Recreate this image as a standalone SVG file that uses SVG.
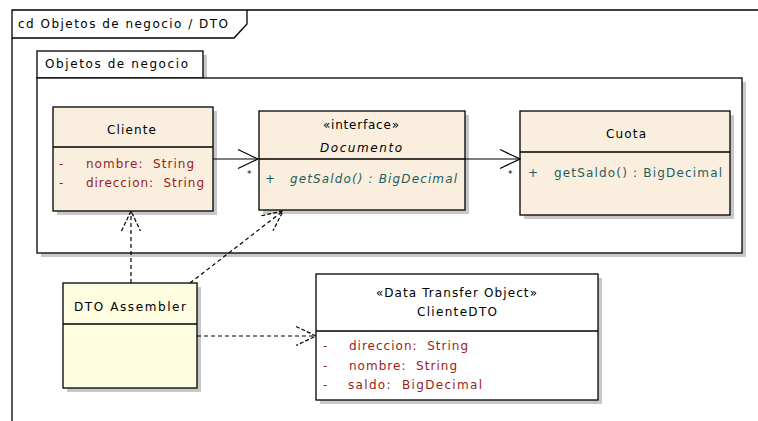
<svg xmlns="http://www.w3.org/2000/svg" width="758" height="421" viewBox="0 0 758 421">
<style>
text{font-family:"DejaVu Sans","Liberation Sans",sans-serif;font-size:12px;fill:#000}
.box{fill:#FAEFDF;stroke:#000;stroke-width:1.3}
.asm{fill:#FFFDE0;stroke:#000;stroke-width:1.3}
.wbox{fill:#fff;stroke:#000;stroke-width:1.3}
.sh{fill:#C8C8C8}
.ln{stroke:#000;stroke-width:1.3;fill:none}
.attr{fill:#9B1B1B}
.meth{fill:#1E5E5E}
.it{font-style:italic}
.sm{font-size:9px}
.solid{stroke:#000;stroke-width:1.2;fill:none}
.dash{stroke:#000;stroke-width:1.2;fill:none;stroke-dasharray:4,3}
</style>
<defs>
<marker id="open" viewBox="0 0 22 22" refX="21" refY="11" markerWidth="22" markerHeight="22" markerUnits="userSpaceOnUse" orient="auto">
<path d="M1,1.5 L21,11 L1,20.5" fill="none" stroke="#000" stroke-width="1.2"/>
</marker>
<marker id="openD" viewBox="0 0 22 22" refX="21" refY="11" markerWidth="22" markerHeight="22" markerUnits="userSpaceOnUse" orient="auto">
<path d="M1,1.5 L21,11 L1,20.5" fill="none" stroke="#000" stroke-width="1.2" stroke-dasharray="4,2"/>
</marker>
</defs>
<rect width="758" height="421" fill="#fff"/>
<g id="frame">
<path class="ln" d="M12,421 V10 H758"/>
<path class="ln" d="M12,38 H234 L247,24 V10"/>
<text x="18" y="28" textLength="210" lengthAdjust="spacing">cd Objetos de negocio / DTO</text>
</g>
<g id="package">
<rect class="sh" x="203" y="55" width="4" height="23"/>
<rect class="sh" x="41" y="82" width="705" height="175"/>
<rect x="37" y="51" width="166" height="27" fill="#fff" stroke="#000" stroke-width="1.3"/>
<rect x="37" y="78" width="705" height="175" fill="#fff" stroke="#000" stroke-width="1.3"/>
<text x="45" y="68" textLength="143" lengthAdjust="spacing">Objetos de negocio</text>
</g>
<g id="cliente">
<rect class="sh" x="57" y="111" width="160" height="104"/>
<rect class="box" x="53" y="107" width="160" height="104"/>
<line class="ln" x1="53" y1="147" x2="213" y2="147"/>
<text x="107" y="134" textLength="49" lengthAdjust="spacing">Cliente</text>
<text class="attr" x="59" y="168">-</text>
<text class="attr" x="86" y="168" textLength="108" lengthAdjust="spacing">nombre:&#160; String</text>
<text class="attr" x="59" y="187">-</text>
<text class="attr" x="86" y="187" textLength="118" lengthAdjust="spacing">direccion:&#160; String</text>
</g>
<g id="documento">
<rect class="sh" x="263" y="115" width="206" height="99"/>
<rect class="box" x="259" y="111" width="206" height="99"/>
<line class="ln" x1="259" y1="159" x2="465" y2="159"/>
<text x="323" y="129" textLength="76" lengthAdjust="spacing">«interface»</text>
<text class="it" x="320" y="152" textLength="82" lengthAdjust="spacing">Documento</text>
<text class="meth" x="265" y="183">+</text>
<text class="meth it" x="290" y="183" textLength="167" lengthAdjust="spacing">getSaldo() : BigDecimal</text>
</g>
<g id="cuota">
<rect class="sh" x="524" y="115" width="210" height="104"/>
<rect class="box" x="520" y="111" width="210" height="104"/>
<line class="ln" x1="520" y1="152" x2="730" y2="152"/>
<text x="606" y="138" textLength="40" lengthAdjust="spacing">Cuota</text>
<text class="meth" x="528" y="177">+</text>
<text class="meth" x="554" y="177" textLength="168" lengthAdjust="spacing">getSaldo() : BigDecimal</text>
</g>
<g id="dtoassembler">
<rect class="sh" x="67" y="287" width="134" height="105"/>
<rect class="asm" x="63" y="283" width="134" height="105"/>
<line class="ln" x1="63" y1="324" x2="197" y2="324"/>
<text x="74" y="311" textLength="112" lengthAdjust="spacing">DTO Assembler</text>
</g>
<g id="clientedto">
<rect class="sh" x="320" y="278" width="282" height="126"/>
<rect class="wbox" x="316" y="274" width="282" height="126"/>
<line class="ln" x1="316" y1="331" x2="598" y2="331"/>
<text x="376" y="297" textLength="161" lengthAdjust="spacing">«Data Transfer Object»</text>
<text x="417" y="316" textLength="80" lengthAdjust="spacing">ClienteDTO</text>
<text class="attr" x="323" y="350">-</text>
<text class="attr" x="349" y="350" textLength="119" lengthAdjust="spacing">direccion:&#160; String</text>
<text class="attr" x="323" y="370">-</text>
<text class="attr" x="349" y="370" textLength="108" lengthAdjust="spacing">nombre:&#160; String</text>
<text class="attr" x="323" y="389">-</text>
<text class="attr" x="348" y="389" textLength="134" lengthAdjust="spacing">saldo:&#160; BigDecimal</text>
</g>
<g id="connectors">
<line class="solid" x1="213" y1="159" x2="258" y2="159" marker-end="url(#open)"/>
<text class="sm" x="247" y="177">*</text>
<line class="solid" x1="465" y1="159" x2="520" y2="159" marker-end="url(#open)"/>
<text class="sm" x="508" y="177">*</text>
<line class="dash" x1="131" y1="283" x2="131" y2="211" marker-end="url(#openD)"/>
<line class="dash" x1="190" y1="283" x2="283" y2="211" marker-end="url(#openD)"/>
<line class="dash" x1="197" y1="336" x2="316" y2="336" marker-end="url(#openD)"/>
</g>
</svg>
